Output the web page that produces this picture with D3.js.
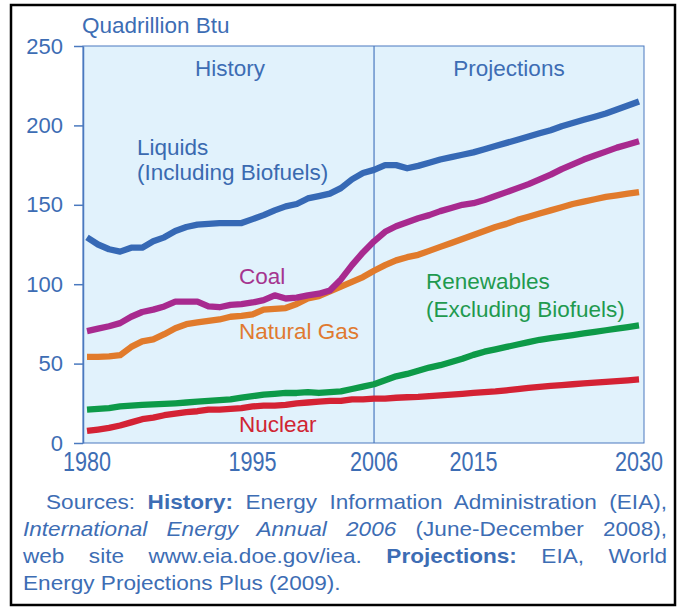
<!DOCTYPE html>
<html>
<head>
<meta charset="utf-8">
<script src="https://cdn.jsdelivr.net/npm/d3@7"></script>
<style>
  body { margin: 0; background: #fff; }
  svg { display: block; }
  text { font-family: "Liberation Sans", Arial, Helvetica, sans-serif; }
</style>
</head>
<body>
<svg id="chart"></svg>
<script>
let width = 678;
let height = 608;

// data, quadrillion Btu, 1980-2030
const years = d3.range(1980, 2031);
const liquids = [129.5, 125, 122, 120.5, 123, 123, 127, 129.5, 133.5, 136, 137.5, 138, 138.5, 138.5, 138.5,
    141, 143.5, 146.5, 149, 150.5, 154, 155.5, 157, 160.5, 166, 170, 172,
    175, 175, 173, 174.5, 176.5, 178.5, 180, 181.5, 183, 185, 187, 189, 191, 193,
    195, 197, 199.5, 201.5, 203.5, 205.5, 207.5, 210, 212.5, 215];
const coal = [70.5, 72, 73.5, 75.5, 79.5, 82.5, 84, 86, 89, 89, 89, 86, 85.5, 87, 87.5,
    88.5, 90, 93, 91, 91.5, 93, 94, 96, 103, 112, 120, 127,
    133, 136.5, 139, 141.5, 143.5, 146, 148, 150, 151, 153, 155.5, 158, 160.5, 163,
    166, 169, 172.5, 175.5, 178.5, 181, 183.5, 186, 188, 190];
const naturalGas = [54.2, 54.2, 54.6, 55.3, 60.5, 64, 65.3, 68.5, 72.3, 74.8, 75.9, 76.9, 77.8, 79.5, 80,
    81, 84, 84.5, 85, 87.5, 91, 92.5, 95.5, 98.5, 101.5, 104.5, 108.5,
    112, 115, 117, 118.5, 121, 123.5, 126, 128.5, 131, 133.5, 136, 138, 140.5, 142.5,
    144.5, 146.5, 148.5, 150.5, 152, 153.5, 155, 156, 157, 158];
const renewables = [21, 21.5, 22, 23, 23.5, 24, 24.3, 24.6, 25, 25.5, 26, 26.5, 27, 27.5, 28.5,
    29.5, 30.5, 31, 31.5, 31.5, 32, 31.5, 32, 32.5, 34, 35.5, 37,
    39.5, 42, 43.5, 45.5, 47.5, 49, 51, 53, 55.5, 57.5, 59, 60.5, 62, 63.5,
    65, 66, 67, 68, 69, 70, 71, 72, 73, 74];
const nuclear = [7.6, 8.5, 9.5, 11, 13, 15, 16, 17.5, 18.5, 19.5, 20, 21, 21, 21.5, 22,
    23, 23.5, 23.5, 24, 25, 25.5, 26, 26.5, 26.5, 27.5, 27.5, 28,
    28, 28.5, 28.8, 29, 29.5, 30, 30.5, 31, 31.5, 32, 32.5, 33.2, 34, 34.7,
    35.3, 36, 36.5, 37, 37.5, 38, 38.5, 39, 39.5, 40];

const yTicks = [0, 50, 100, 150, 200, 250];
const xTicks = [1980, 1995, 2006, 2015, 2030];
const splitYear = 2006;

const series = [
    {key: "nuclear", values: nuclear, color: "#d42234"},
    {key: "renewables", values: renewables, color: "#0d9a48"},
    {key: "naturalGas", values: naturalGas, color: "#e17b2c"},
    {key: "coal", values: coal, color: "#a82a8f"},
    {key: "liquids", values: liquids, color: "#3669b5"}
];

const blue = "#3d6db4";
const axisBlue = "#4a79bf";

let svg = d3.select("#chart")
    .attr("width", width)
    .attr("height", height);

// outer frame
svg.append("rect")
    .attr("x", 11).attr("y", 5)
    .attr("width", 664).attr("height", 600)
    .attr("fill", "#fff")
    .attr("stroke", "#000")
    .attr("stroke-width", 2.5);

let plot = {left: 83, right: 644, top: 46, bottom: 443};

let x = d3.scaleLinear().domain([1980, 2030]).range([87, 639]);
let y = d3.scaleLinear().domain([0, 250]).range([plot.bottom, plot.top]);

svg.append("rect")
    .attr("x", plot.left).attr("y", plot.top)
    .attr("width", plot.right - plot.left)
    .attr("height", plot.bottom - plot.top)
    .attr("fill", "#e1f2fc")
    .attr("stroke", axisBlue)
    .attr("stroke-width", 1);

// history / projections divider
svg.append("line")
    .attr("x1", x(splitYear)).attr("x2", x(splitYear))
    .attr("y1", plot.top).attr("y2", plot.bottom)
    .attr("stroke", axisBlue)
    .attr("stroke-width", 1.2);

let yAxis = svg.append("g")
    .attr("transform", `translate(${plot.left},0)`)
    .call(d3.axisLeft(y).tickValues(yTicks).tickSize(9).tickSizeOuter(0).tickPadding(11));
yAxis.select(".domain").attr("stroke", axisBlue).attr("stroke-width", 1.5);
yAxis.selectAll(".tick line").attr("stroke", axisBlue).attr("stroke-width", 1.5);
yAxis.selectAll(".tick text")
    .attr("fill", blue)
    .style("font-size", "22px")
    .style("font-family", "'Liberation Sans', Arial, sans-serif");

// x labels, tall and narrow like the original
svg.append("g").selectAll("text")
    .data(xTicks)
    .enter().append("text")
    .attr("transform", (d) => `translate(${x(d)},471) scale(0.8,1)`)
    .attr("text-anchor", "middle")
    .attr("fill", blue)
    .style("font-size", "27px")
    .text((d) => d);

let line = d3.line()
    .x((d, i) => x(years[i]))
    .y((d) => y(d));

svg.append("g").selectAll("path")
    .data(series)
    .enter().append("path")
    .attr("d", (d) => line(d.values))
    .attr("fill", "none")
    .attr("stroke", (d) => d.color)
    .attr("stroke-width", 6.3)
    .attr("stroke-linejoin", "round");

// text labels
const labels = [
    {text: "Quadrillion Btu", x: 82, y: 33, color: blue},
    {text: "History", x: 230, y: 76, color: blue, anchor: "middle"},
    {text: "Projections", x: 509, y: 76, color: blue, anchor: "middle"},
    {text: "Liquids", x: 137, y: 155, color: "#3a6ab0"},
    {text: "(Including Biofuels)", x: 137, y: 180, color: "#3a6ab0"},
    {text: "Coal", x: 239, y: 284, color: "#a5358f"},
    {text: "Natural Gas", x: 239, y: 339, color: "#e07a30"},
    {text: "Nuclear", x: 239, y: 432, color: "#d02533"},
    {text: "Renewables", x: 426, y: 289, color: "#1f9a4f"},
    {text: "(Excluding Biofuels)", x: 426, y: 317, color: "#1f9a4f"}
];
svg.append("g").selectAll("text")
    .data(labels)
    .enter().append("text")
    .attr("x", (d) => d.x)
    .attr("y", (d) => d.y)
    .attr("text-anchor", (d) => d.anchor || "start")
    .attr("fill", (d) => d.color)
    .style("font-size", "22.5px")
    .text((d) => d.text);

// sources note, justified
const sx = 1.13;
const notes = [
    {x: 46, y: 509, w: 621, parts: [["Sources: ", "normal", "normal"], ["History:", "bold", "normal"], [" Energy Information Administration (EIA),", "normal", "normal"]]},
    {x: 23, y: 536, w: 644, parts: [["International Energy Annual 2006", "normal", "italic"], [" (June-December 2008),", "normal", "normal"]]},
    {x: 23, y: 563, w: 644, parts: [["web site www.eia.doe.gov/iea. ", "normal", "normal"], ["Projections:", "bold", "normal"], [" EIA, World", "normal", "normal"]]},
    {x: 23, y: 590, w: null, parts: [["Energy Projections Plus (2009).", "normal", "normal"]]}
];
notes.forEach(function(n) {
    let t = svg.append("text")
        .attr("transform", `translate(${n.x},${n.y}) scale(${sx},1)`)
        .attr("fill", blue)
        .style("font-size", "20px")
        .attr("xml:space", "preserve");
    n.parts.forEach(function(p) {
        t.append("tspan")
            .style("font-weight", p[1])
            .style("font-style", p[2])
            .text(p[0]);
    });
    if (n.w) {
        let natural = t.node().getComputedTextLength();
        let spaces = n.parts.map((p) => p[0]).join("").split(" ").length - 1;
        t.style("word-spacing", ((n.w / sx - natural) / spaces) + "px");
    }
});
</script>
</body>
</html>
